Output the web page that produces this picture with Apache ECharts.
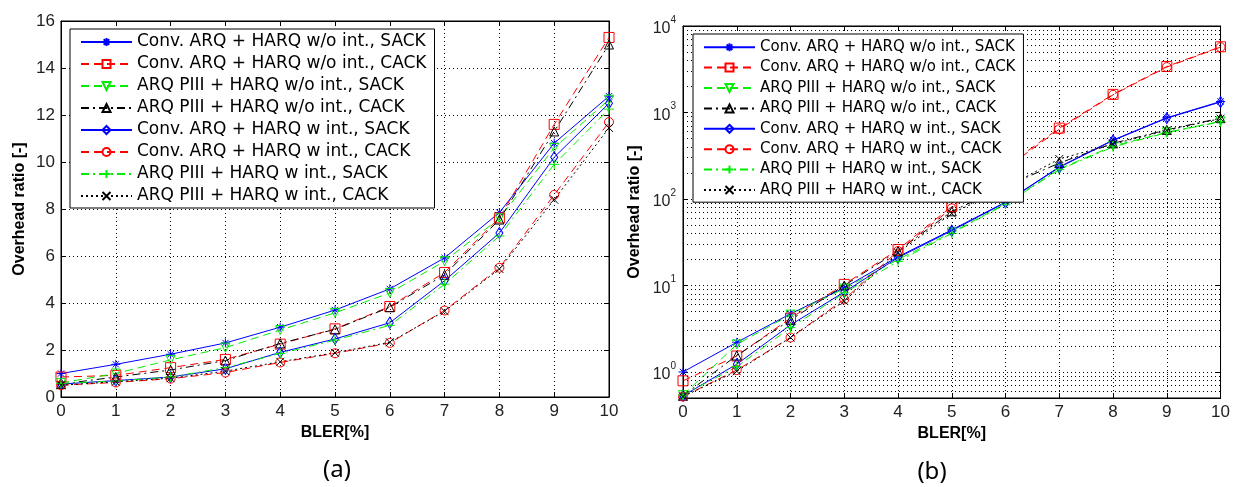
<!DOCTYPE html>
<html><head><meta charset="utf-8">
<script src="https://cdn.jsdelivr.net/npm/echarts@6/dist/echarts.min.js"></script>
<style>html,body{margin:0;padding:0;background:#fff}#c{width:1233px;height:487px}</style>
</head><body><div id="c"></div>
<script>
// ---------- data ----------
const bler = [0, 1, 2, 3, 4, 5, 6, 7, 8, 9, 10];
const seriesNames = [
  'Conv. ARQ + HARQ w/o int., SACK',
  'Conv. ARQ + HARQ w/o int., CACK',
  'ARQ PIII + HARQ w/o int., SACK',
  'ARQ PIII + HARQ w/o int., CACK',
  'Conv. ARQ + HARQ w int., SACK',
  'Conv. ARQ + HARQ w int., CACK',
  'ARQ PIII + HARQ w int., SACK',
  'ARQ PIII + HARQ w int., CACK'
];
// panel (a), linear scale
const linConvWoSack = [1.0, 1.39, 1.82, 2.3, 2.97, 3.7, 4.6, 5.92, 7.85, 10.8, 12.8];
const linConvWoCack = [0.85, 0.92, 1.25, 1.6, 2.25, 2.9, 3.85, 5.3, 7.62, 11.6, 15.3];
const linPiiiWoSack = [0.6, 1.0, 1.58, 2.1, 2.85, 3.58, 4.43, 5.78, 7.6, 10.6, 12.65];
const linPiiiWoCack = [0.55, 0.85, 1.15, 1.55, 2.28, 2.88, 3.82, 5.2, 7.55, 11.3, 15.0];
const linConvWSack  = [0.55, 0.7, 0.85, 1.2, 1.9, 2.47, 3.16, 4.95, 6.98, 10.2, 12.5];
const linConvWCack  = [0.5, 0.62, 0.78, 1.04, 1.47, 1.86, 2.3, 3.68, 5.5, 8.6, 11.7];
const linPiiiWSack  = [0.58, 0.68, 0.85, 1.25, 1.85, 2.42, 3.05, 4.8, 6.85, 9.9, 12.25];
const linPiiiWCack  = [0.5, 0.65, 0.8, 1.1, 1.5, 1.88, 2.33, 3.65, 5.45, 8.4, 11.45];
// panel (b), log scale
const logConvWoSack = [1.0, 2.2, 4.7, 9.4, 21.5, 44, 92, 235, 480, 870, 1340];
const logConvWoCack = [0.79, 1.53, 4.2, 10.3, 26, 82, 235, 660, 1620, 3400, 5750];
const logPiiiWoSack = [0.54, 2.08, 4.6, 9.2, 20, 41, 88, 222, 410, 590, 790];
const logPiiiWoCack = [0.53, 1.55, 4.0, 10.0, 25, 72, 140, 260, 440, 630, 860];
const logConvWSack  = [0.53, 1.23, 3.5, 8.4, 21, 43, 91, 232, 475, 860, 1320];
const logConvWCack  = [0.52, 1.05, 2.5, 6.9, 25, 78, 225, 640, 1600, 3350, 5700];
const logPiiiWSack  = [0.54, 1.15, 3.25, 8.2, 19, 40, 87, 218, 400, 585, 780];
const logPiiiWCack  = [0.52, 1.02, 2.5, 6.6, 24, 68, 135, 290, 430, 620, 850];
// tick settings
const linYTicks = {min: 0, max: 16, interval: 2};
const logYRange = {min: 0.5, max: 10000};
const logDecades = [-1, 0, 1, 2, 3];
const minorMultipliers = [2, 3, 4, 5, 6, 7, 8, 9];

const linSets = [linConvWoSack, linConvWoCack, linPiiiWoSack, linPiiiWoCack, linConvWSack, linConvWCack, linPiiiWSack, linPiiiWCack];
const logSets = [logConvWoSack, logConvWoCack, logPiiiWoSack, logPiiiWoCack, logConvWSack, logConvWCack, logPiiiWSack, logPiiiWCack];

// ---------- styles ----------
const P = {
  star: 'path://M5,0L5,10M0,5L10,5M1.5,1.5L8.5,8.5M8.5,1.5L1.5,8.5',
  plus: 'path://M5,0L5,10M0,5L10,5',
  cross: 'path://M0,0L10,10M10,0L0,10'
};
const DASH = [8, 5], DASHDOT = [8, 4, 2, 4], DOT = [2, 3];
const styles = [
  {c: '#0000ff', t: 'solid', s: P.star, sz: 9, r: 0},
  {c: '#ff0000', t: DASH, s: 'rect', sz: 10, r: 0},
  {c: '#00ee00', t: DASH, s: 'triangle', sz: 9, r: 180},
  {c: '#000000', t: DASHDOT, s: 'triangle', sz: 9, r: 0},
  {c: '#0000ff', t: 'solid', s: 'diamond', sz: [7, 11], r: 0},
  {c: '#ff0000', t: DASH, s: 'circle', sz: 9, r: 0},
  {c: '#00ee00', t: DASHDOT, s: P.plus, sz: 10, r: 0},
  {c: '#000000', t: DOT, s: P.cross, sz: 8, r: 0}
];

function mkSeries(sets, xi, yi) {
  return sets.map((arr, i) => {
    const st = styles[i];
    return {
      name: seriesNames[i], type: 'line', xAxisIndex: xi, yAxisIndex: yi,
      data: bler.map((x, k) => [x, arr[k]]),
      symbol: st.s, symbolSize: st.sz, symbolRotate: st.r, showAllSymbol: true,
      lineStyle: {color: st.c, width: 1, type: st.t},
      itemStyle: {color: 'rgba(255,255,255,0)', borderColor: st.c, borderWidth: 1},
      emphasis: {disabled: true}, z: 3
    };
  });
}

const FONT = 'Liberation Sans';
const TICKC = '#222';
const gridLine = {show: true, lineStyle: {color: '#000', type: [1, 3], width: 1}};
function xAx(g, pos, main) {
  return {
    gridIndex: g, type: 'value', min: 0, max: 10, interval: 1, position: pos,
    axisLine: {show: true, onZero: false, lineStyle: {color: '#000', width: 1}},
    axisTick: {show: true, inside: true, length: 5, lineStyle: {color: '#000'}},
    axisLabel: {show: main, color: TICKC, fontSize: 17, fontFamily: FONT, margin: 6},
    splitLine: main ? gridLine : {show: false},
    name: main ? 'BLER[%]' : '', nameLocation: 'middle', nameGap: 26,
    nameTextStyle: {color: '#000', fontSize: 16, fontWeight: 'bold', fontFamily: FONT}
  };
}
function yLin(pos, main) {
  return {
    gridIndex: 0, type: 'value', min: linYTicks.min, max: linYTicks.max, interval: linYTicks.interval, position: pos,
    axisLine: {show: true, onZero: false, lineStyle: {color: '#000', width: 1}},
    axisTick: {show: true, inside: true, length: 5, lineStyle: {color: '#000'}},
    axisLabel: {show: main, color: TICKC, fontSize: 17, fontFamily: FONT, margin: 6},
    splitLine: main ? gridLine : {show: false},
    name: main ? 'Overhead ratio [-]' : '', nameLocation: 'middle', nameGap: 33,
    nameTextStyle: {color: '#000', fontSize: 16, fontWeight: 'bold', fontFamily: FONT}
  };
}
function yLog(pos, main) {
  return {
    gridIndex: 1, type: 'log', logBase: 10, min: logYRange.min, max: logYRange.max, position: pos,
    axisLine: {show: true, onZero: false, lineStyle: {color: '#000', width: 1}},
    axisTick: {show: true, inside: true, length: 5, lineStyle: {color: '#000'}},
    axisLabel: {
      show: main, color: TICKC, fontFamily: FONT, margin: 7,
      formatter: v => {
        const e = Math.round(Math.log10(v));
        if (Math.abs(v - Math.pow(10, e)) > 1e-6 * v) return '';
        return '{b|10}{s|' + e + '}';
      },
      rich: {
        b: {fontSize: 16, fontFamily: FONT, color: TICKC, verticalAlign: 'bottom', lineHeight: 22},
        s: {fontSize: 10, fontFamily: FONT, color: TICKC, verticalAlign: 'top', lineHeight: 10}
      }
    },
    splitLine: main ? gridLine : {show: false},
    name: main ? 'Overhead ratio [-]' : '', nameLocation: 'middle', nameGap: 40,
    nameTextStyle: {color: '#000', fontSize: 16, fontWeight: 'bold', fontFamily: FONT}
  };
}

const minorVals = [];
logDecades.forEach(d => minorMultipliers.forEach(m => {
  const v = m * Math.pow(10, d);
  if (v > logYRange.min && v < logYRange.max) minorVals.push(v);
}));

const minorGridSeries = {
  type: 'line', xAxisIndex: 2, yAxisIndex: 2, data: [], silent: true, z: 1,
  markLine: {
    silent: true, symbol: ['none', 'none'], label: {show: false}, animation: false,
    lineStyle: {color: '#000', type: [1, 3], width: 1},
    data: minorVals.map(v => ({yAxis: v}))
  }
};

function legend(left, top, fs, lh, pad) {
  return {
    data: seriesNames, orient: 'vertical', left: left, top: top,
    itemWidth: 51, itemHeight: 10, itemGap: 0, padding: pad,
    backgroundColor: '#fff', borderColor: '#000', borderWidth: 1, borderRadius: 0,
    textStyle: {color: '#000', fontSize: fs, fontFamily: 'DejaVu Sans', lineHeight: lh},
    selectedMode: false, z: 10
  };
}

const option = {
  animation: false,
  backgroundColor: '#fff',
  title: [
    {text: '(a)', left: 332, top: 453, textAlign: 'center', textStyle: {fontSize: 24, fontWeight: 'normal', color: '#000', fontFamily: 'Noto Sans'}},
    {text: '(b)', left: 927, top: 455, textAlign: 'center', textStyle: {fontSize: 24, fontWeight: 'normal', color: '#000', fontFamily: 'Noto Sans'}}
  ],
  legend: [legend(70, 29, 17, 22, [2, 8, 1, 10]), legend(693, 34, 15, 20.4, [3, 8, 2, 10])],
  grid: [
    {left: 61, top: 21, width: 548, height: 376, show: true, borderColor: '#000', borderWidth: 1, backgroundColor: '#fff'},
    {left: 683, top: 26, width: 539, height: 372, show: true, borderColor: '#000', borderWidth: 1, backgroundColor: '#fff'}
  ],
  xAxis: [xAx(0, 'bottom', true), xAx(0, 'top', false), xAx(1, 'bottom', true), xAx(1, 'top', false)],
  yAxis: [yLin('left', true), yLin('right', false), yLog('left', true), yLog('right', false)],
  series: [].concat(mkSeries(linSets, 0, 0), [minorGridSeries], mkSeries(logSets, 2, 2))
};

const chart = echarts.init(document.getElementById('c'), null, {renderer: 'canvas'});
chart.setOption(option);
</script></body></html>
